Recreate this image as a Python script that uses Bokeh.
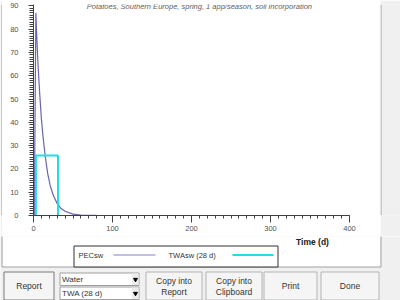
from bokeh.plotting import figure
from bokeh.models import Range1d, Label, SingleIntervalTicker
from bokeh.layouts import row, column
from bokeh.embed import file_html
from bokeh.resources import INLINE
from bokeh.core.properties import value

FONT = "Liberation Sans"

# ---------------- data ----------------
title_text = "Potatoes, Southern Europe, spring, 1 app/season, soil incorporation"
x_label = "Time (d)"
pec_name = "PECsw"
twa_name = "TWAsw (28 d)"

pec_days = [0, 1, 3, 4, 5, 6, 8, 10, 12, 15, 18, 21, 25, 30, 35, 40, 50, 60, 80, 100, 200, 365]
pec_vals = [0, 0, 87, 78, 70, 63, 51.5, 41.5, 34, 25, 18, 13, 8.7, 5.1, 3.0, 1.8, 0.6, 0.2, 0.02, 0, 0, 0]

twa_days = [3, 3, 31, 31]
twa_vals = [0, 25.8, 25.8, 0]

x_max = 400
y_max = 90.6

button_labels = ["Report", "Copy into\nReport", "Copy into\nClipboard", "Print", "Done"]
combo_labels = ["Water", "TWA (28 d)"]

PEC_COLOR = "#6a64b4"
TWA_COLOR = "#22dde6"
BG = "#f0f0f0"

TOP_H = 236
BOT_H = 300 - TOP_H

# ---------------- chart ----------------
chart = figure(width=378, height=TOP_H, x_range=Range1d(0, x_max), y_range=Range1d(0, y_max),
               output_backend="svg", toolbar_location=None,
               min_border_left=31, min_border_right=31, min_border_top=4, min_border_bottom=TOP_H - 215)
chart.xgrid.visible = False
chart.ygrid.visible = False
chart.outline_line_color = None
chart.background_fill_color = "white"
chart.border_fill_color = "white"
chart.xaxis.ticker = SingleIntervalTicker(interval=100, num_minor_ticks=10)
chart.yaxis.ticker = SingleIntervalTicker(interval=10, num_minor_ticks=10)
for ax in (chart.xaxis[0], chart.yaxis[0]):
    ax.axis_line_color = "#404040"
    ax.major_tick_line_color = "#404040"
    ax.minor_tick_line_color = "#404040"
    ax.major_label_text_font = FONT
    ax.major_label_text_font_size = "7.5px"
    ax.major_label_text_color = "#505050"
    ax.major_tick_in = 0
    ax.minor_tick_in = 0
chart.xaxis.major_tick_out = 7
chart.xaxis.minor_tick_out = 3
chart.xaxis.major_label_standoff = 3
chart.yaxis.major_tick_out = 5
chart.yaxis.minor_tick_out = 4
chart.yaxis.major_label_standoff = 10

chart.line(pec_days, pec_vals, line_color=PEC_COLOR, line_width=1.2)
chart.line(twa_days, twa_vals, line_color=TWA_COLOR, line_width=2)

chart.add_layout(Label(x=210, y=89.7, text=title_text, text_font=FONT, text_font_style="italic",
                       text_font_size="7.5px", text_color="#606060",
                       text_align="center", text_baseline="middle"))


def strip(w, h, line_x):
    s = figure(width=w, height=h, x_range=Range1d(0, w), y_range=Range1d(0, h),
               output_backend="svg", toolbar_location=None, min_border=0,
               x_axis_type=None, y_axis_type=None)
    s.background_fill_color = BG
    s.border_fill_color = BG
    s.outline_line_color = None
    s.segment(x0=[line_x], y0=[0], x1=[line_x], y1=[h], line_color="#a0a0a0", line_width=1)
    return s


left_strip = strip(2, TOP_H, 1.5)
right_strip = strip(20, TOP_H, 0.5)

# ---------------- bottom panel (axis title, legend, controls) ----------------
# UI coordinates are given as page pixels (top-down); g() flips them for the figure
def g(y):
    return 300 - y

bot = figure(width=400, height=BOT_H, x_range=Range1d(0, 400), y_range=Range1d(0, BOT_H),
             output_backend="svg", toolbar_location=None, min_border=0,
             x_axis_type=None, y_axis_type=None)
bot.background_fill_color = BG
bot.border_fill_color = BG
bot.outline_line_color = None

# white panel continuation
bot.quad(left=[2], right=[380], top=[g(TOP_H) + 1], bottom=[g(266.5)], fill_color="white", line_color=None)
bot.segment(x0=[1.5, 380.5, 1.5], y0=[g(TOP_H) + 1, g(TOP_H) + 1, g(266.5)],
            x1=[1.5, 380.5, 380.5], y1=[g(266.5), g(266.5), g(266.5)],
            line_color="#a0a0a0", line_width=1)

# x axis title
bot.text(x=[312], y=[g(241)], text=[x_label], text_font=value(FONT), text_font_style="bold",
         text_font_size=value("8.5px"), text_color="#202020", text_align="center", text_baseline="middle")

# legend
bot.quad(left=[73.5], right=[277.5], top=[g(245.5)], bottom=[g(266.5)], fill_color="white",
         line_color="#303030", line_width=1)
bot.text(x=[78, 168], y=[g(254.5), g(254.5)], text=[pec_name, twa_name], text_font=value(FONT),
         text_font_size=value("7.5px"), text_color="#333333", text_align="left", text_baseline="middle")
bot.segment(x0=[113], y0=[g(254.5)], x1=[155], y1=[g(254.5)], line_color="#8580cc", line_width=1.2)
bot.segment(x0=[232], y0=[g(254.5)], x1=[273], y1=[g(254.5)], line_color=TWA_COLOR, line_width=2)

# buttons
btn_left = [3.5, 145.5, 205.5, 263.5, 320.5]
btn_right = [53.5, 201.5, 261.5, 316.5, 378.5]
bot.quad(left=btn_left, right=btn_right, top=[g(271.5)] * 5, bottom=[g(299.5)] * 5,
         fill_color="#f5f5f5", line_color=["#7a7a7a", "#b4b4b4", "#b4b4b4", "#b4b4b4", "#b4b4b4"],
         line_width=1)
tx, ty, tt = [], [], []
for lab, l, r in zip(button_labels, btn_left, btn_right):
    parts = lab.split("\n")
    cx = (l + r) / 2
    if len(parts) == 1:
        tx.append(cx); ty.append(g(285.5)); tt.append(parts[0])
    else:
        tx += [cx, cx]; ty += [g(280.0), g(291.5)]; tt += parts
bot.text(x=tx, y=ty, text=tt, text_font=value(FONT), text_font_size=value("8.5px"),
         text_color="#333333", text_align="center", text_baseline="middle")

# combo boxes
bot.quad(left=[59.5, 59.5], right=[138.5, 138.5], top=[g(272.5), g(286.5)], bottom=[g(285), g(299)],
         fill_color="white", line_color="#a0a0a0", line_width=1)
bot.quad(left=[131.5, 131.5], right=[138, 138], top=[g(273), g(287)], bottom=[g(284.5), g(298.5)],
         fill_color="#ececec", line_color=None)
bot.scatter(x=[135, 135], y=[g(279), g(293)], marker="inverted_triangle", size=4,
            fill_color="black", line_color="black")
bot.text(x=[61.5, 61.5], y=[g(279), g(293)], text=combo_labels, text_font=value(FONT),
         text_font_size=value("8px"), text_color="#333333", text_align="left", text_baseline="middle")

layout = column(row(left_strip, chart, right_strip), bot)

open("out.html", "w").write(file_html(layout, INLINE))
